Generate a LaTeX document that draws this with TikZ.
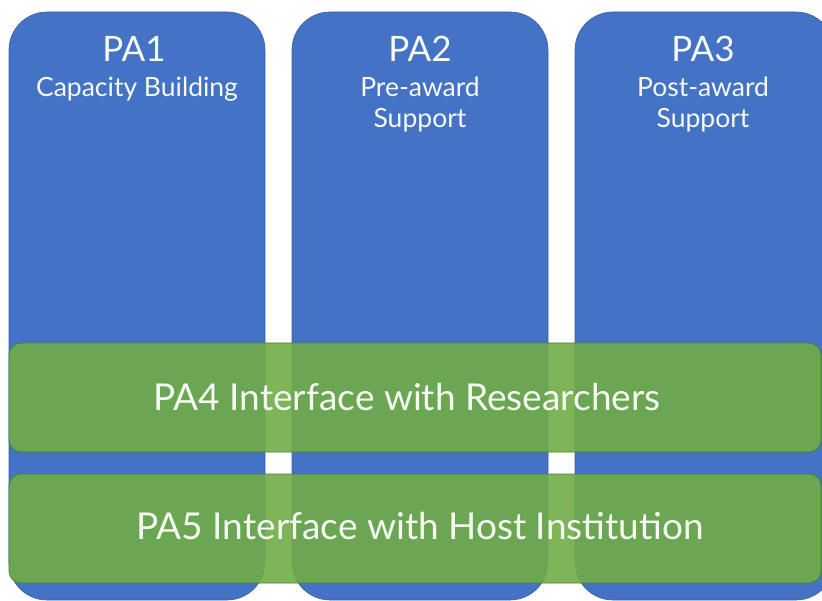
\documentclass[tikz,border=0pt]{standalone}
\usepackage{fontspec}
\setmainfont{Lato}
\definecolor{colblue}{RGB}{68,114,196}
\definecolor{colblueline}{RGB}{58,96,168}
\definecolor{bargreen}{RGB}{112,173,71}
\definecolor{bargreenline}{RGB}{80,126,50}
\definecolor{txt}{RGB}{246,250,242}
\begin{document}
\begin{tikzpicture}[x=1pt,y=-1pt,
  colbox/.style={fill=colblue,draw=colblueline,line width=0.6pt,rounded corners=38pt},
  barbox/.style={fill=bargreen,fill opacity=0.9,draw=bargreenline,line width=0.8pt,rounded corners=12pt},
  title/.style={text=txt,font=\fontsize{35}{38}\selectfont,anchor=center,inner sep=0pt},
  sub/.style={text=txt,font=\fontsize{26.5}{31}\selectfont,align=center,anchor=north,inner sep=0pt},
  bartext/.style={text=txt,font=\fontsize{37}{40}\selectfont,anchor=center,inner sep=0pt}]
\useasboundingbox (0,0) rectangle (822,601);
% columns
\draw[colbox] (9,12) rectangle (265,600);
\draw[colbox] (292,12) rectangle (548,600);
\draw[colbox] (575,12) rectangle (834,600);
\node[title] (t1) at (134,49) {PA1};
\node[title] (t2) at (420,49) {PA2};
\node[title] (t3) at (703,49) {PA3};
\node[sub] (s1) at (137,77) {Capacity Building};
\node[sub] (s2) at (420,77) {Pre-award\\Support};
\node[sub] (s3) at (703,77) {Post-award\\Support};
% bars
\draw[barbox] (9,343) rectangle (821,452);
\draw[barbox] (9,474) rectangle (821,583);
\node[bartext] (b4) at (407,397) {PA4 Interface with Researchers};
\node[bartext] (b5) at (420,526) {PA5 Interface with Host Institution};
\end{tikzpicture}
\end{document}
